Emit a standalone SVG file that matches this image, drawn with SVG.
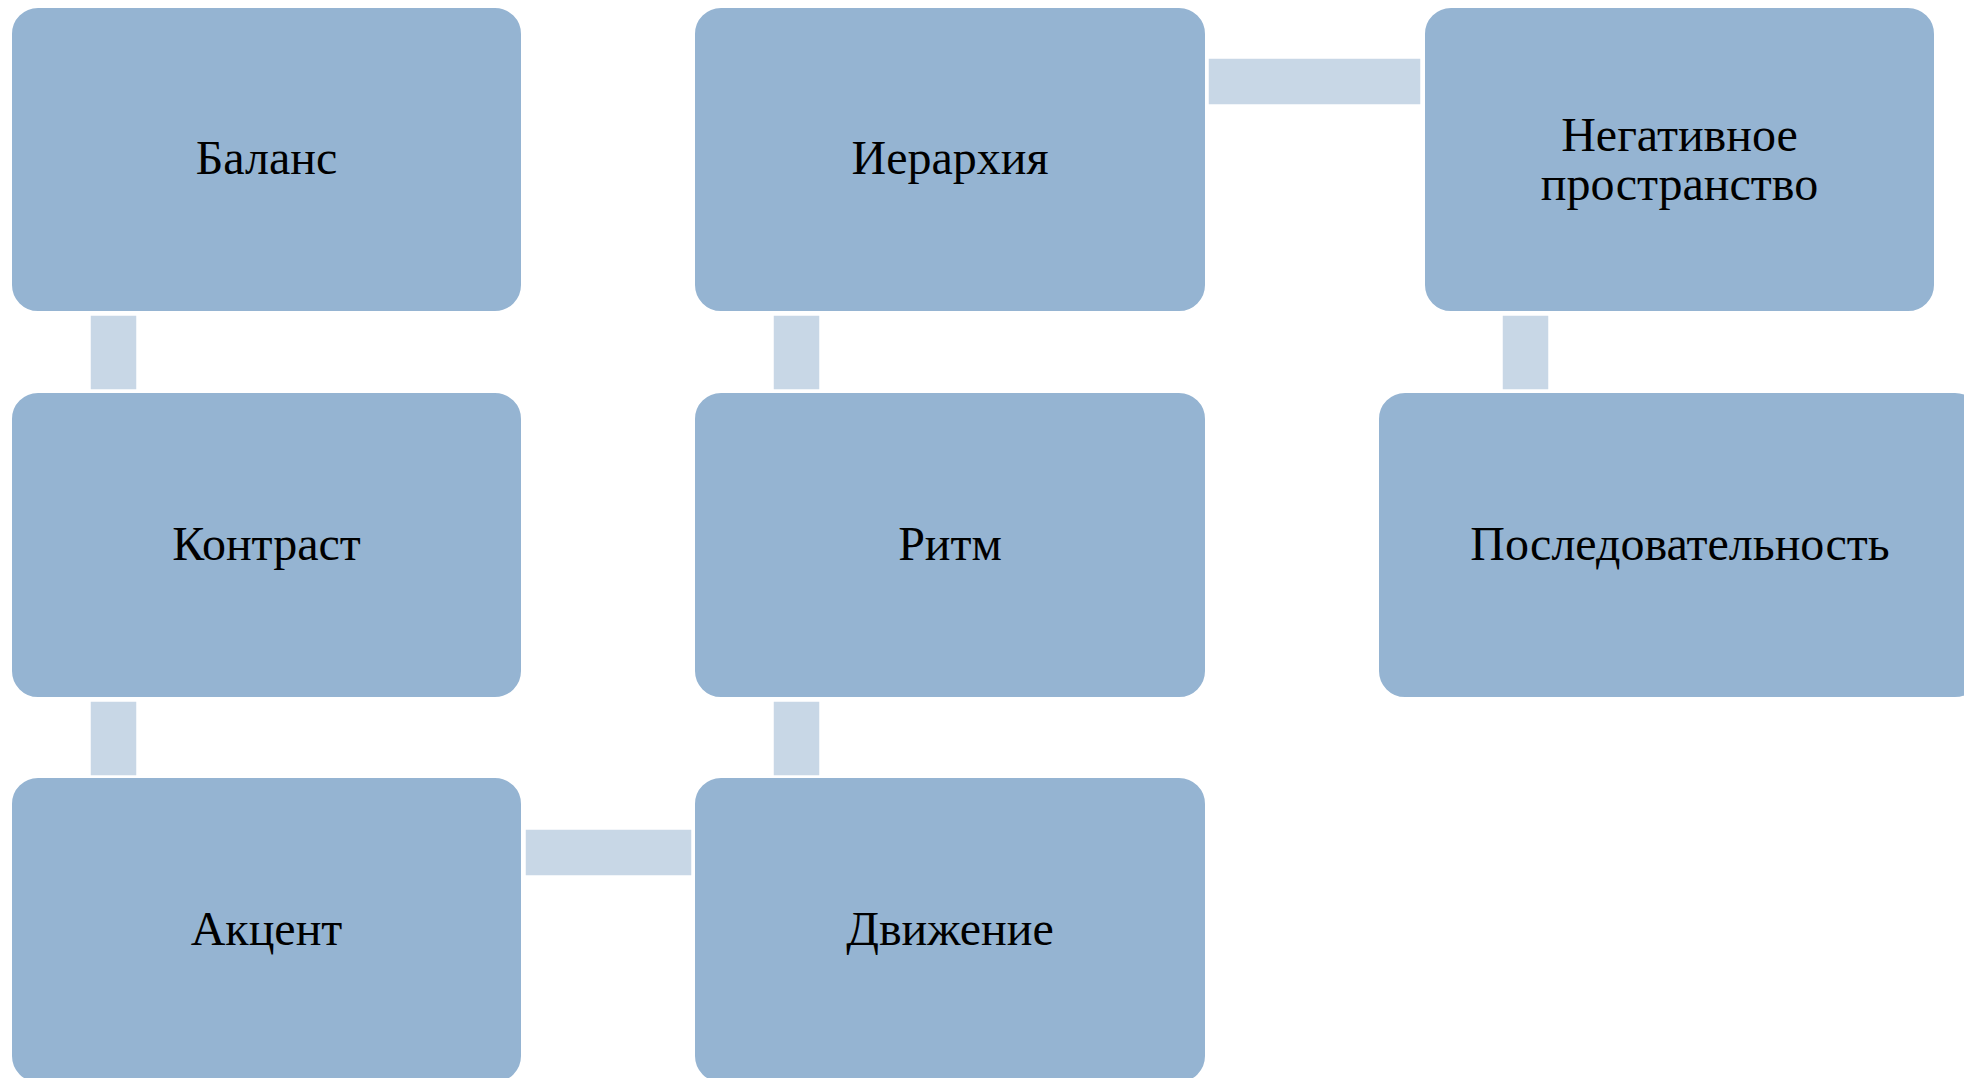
<svg xmlns="http://www.w3.org/2000/svg" width="1964" height="1078" viewBox="0 0 1964 1078">
<style>
.box{fill:#95B4D2;stroke:#FFFFFF;stroke-width:2}
.con{fill:#C8D7E6;stroke:#FFFFFF;stroke-width:1.5}
.t{font-family:"Liberation Serif","Times New Roman",serif;font-size:48px;fill:#000000;text-anchor:middle}
</style>
<rect width="1964" height="1078" fill="#FFFFFF"/>
<g id="connectors">
<rect class="con" x="90" y="315" width="47" height="75"/>
<rect class="con" x="90" y="701" width="47" height="75"/>
<rect class="con" x="525" y="829" width="167" height="47"/>
<rect class="con" x="773" y="701" width="47" height="75"/>
<rect class="con" x="773" y="315" width="47" height="75"/>
<rect class="con" x="1208" y="58" width="213" height="47"/>
<rect class="con" x="1502" y="315" width="47" height="75"/>
</g>
<g id="node-balans">
<rect class="box" x="11" y="7" width="511" height="305" rx="27"/>
<text class="t" x="266.5" y="174">Баланс</text>
</g>
<g id="node-kontrast">
<rect class="box" x="11" y="392" width="511" height="306" rx="27"/>
<text class="t" x="266.5" y="560">Контраст</text>
</g>
<g id="node-aktsent">
<rect class="box" x="11" y="777" width="511" height="306" rx="27"/>
<text class="t" x="266.5" y="945">Акцент</text>
</g>
<g id="node-dvizhenie">
<rect class="box" x="694" y="777" width="512" height="306" rx="27"/>
<text class="t" x="950" y="945">Движение</text>
</g>
<g id="node-ritm">
<rect class="box" x="694" y="392" width="512" height="306" rx="27"/>
<text class="t" x="950" y="560">Ритм</text>
</g>
<g id="node-ierarkhiya">
<rect class="box" x="694" y="7" width="512" height="305" rx="27"/>
<text class="t" x="950" y="174">Иерархия</text>
</g>
<g id="node-negativnoe">
<rect class="box" x="1424" y="7" width="511" height="305" rx="27"/>
<text class="t" x="1679.5" y="151">Негативное</text>
<text class="t" x="1679.5" y="200">пространство</text>
</g>
<g id="node-posledovatelnost">
<rect class="box" x="1378" y="392" width="604" height="306" rx="27"/>
<text class="t" x="1680" y="560">Последовательность</text>
</g>
</svg>
